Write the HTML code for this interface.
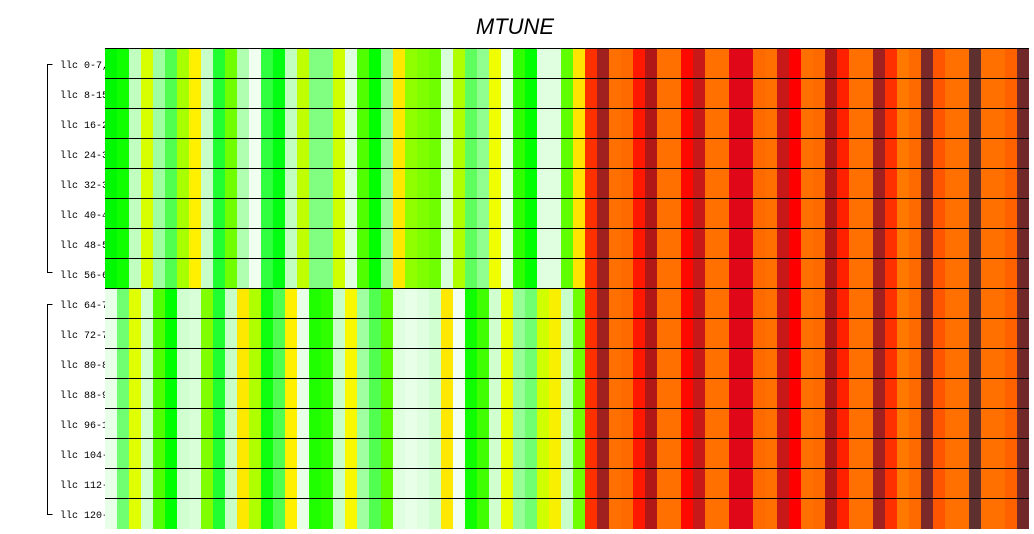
<!DOCTYPE html>
<html><head><meta charset="utf-8"><style>
html,body{margin:0;padding:0;background:#fff;width:1034px;height:534px;overflow:hidden}
svg{display:block}
</style></head><body>
<svg width="1034" height="534" xmlns="http://www.w3.org/2000/svg">
<text x="515" y="34" text-anchor="middle" font-family="Liberation Sans, sans-serif" font-style="italic" font-size="22" fill="#000">MTUNE</text>
<g font-family="Liberation Mono, monospace" font-size="10" fill="#000">
<text x="60" y="68">llc 0-7,xx</text>
<text x="60" y="98">llc 8-15,x</text>
<text x="60" y="128">llc 16-23,</text>
<text x="60" y="158">llc 24-31,</text>
<text x="60" y="188">llc 32-39,</text>
<text x="60" y="218">llc 40-47,</text>
<text x="60" y="248">llc 48-55,</text>
<text x="60" y="278">llc 56-63,</text>
<text x="60" y="308">llc 64-71,</text>
<text x="60" y="338">llc 72-79,</text>
<text x="60" y="368">llc 80-87,</text>
<text x="60" y="398">llc 88-95,</text>
<text x="60" y="428">llc 96-103</text>
<text x="60" y="458">llc 104-11</text>
<text x="60" y="488">llc 112-11</text>
<text x="60" y="518">llc 120-12</text>
</g>
<path d="M52.5 64.5H47.5V272.5H52.5M52.5 304.5H47.5V514.5H52.5" fill="none" stroke="#000" stroke-width="1"/>
<g shape-rendering="crispEdges">
<g>
<rect x="105" y="49" width="12" height="240" fill="#00f800"/>
<rect x="117" y="49" width="12" height="240" fill="#10ff00"/>
<rect x="129" y="49" width="12" height="240" fill="#c0ffc0"/>
<rect x="141" y="49" width="12" height="240" fill="#d8ff00"/>
<rect x="153" y="49" width="12" height="240" fill="#a0ffa0"/>
<rect x="165" y="49" width="12" height="240" fill="#50ff50"/>
<rect x="177" y="49" width="12" height="240" fill="#a8ff00"/>
<rect x="189" y="49" width="12" height="240" fill="#fff000"/>
<rect x="201" y="49" width="12" height="240" fill="#c8ffc8"/>
<rect x="213" y="49" width="12" height="240" fill="#20ff30"/>
<rect x="225" y="49" width="12" height="240" fill="#70ff00"/>
<rect x="237" y="49" width="12" height="240" fill="#b0ffb0"/>
<rect x="249" y="49" width="12" height="240" fill="#f0fff0"/>
<rect x="261" y="49" width="12" height="240" fill="#30ff40"/>
<rect x="273" y="49" width="12" height="240" fill="#00ff10"/>
<rect x="285" y="49" width="12" height="240" fill="#c0ffc0"/>
<rect x="297" y="49" width="12" height="240" fill="#c0ff00"/>
<rect x="309" y="49" width="12" height="240" fill="#80ff80"/>
<rect x="321" y="49" width="12" height="240" fill="#80ff80"/>
<rect x="333" y="49" width="12" height="240" fill="#d0ff00"/>
<rect x="345" y="49" width="12" height="240" fill="#e0ffe0"/>
<rect x="357" y="49" width="12" height="240" fill="#50ff00"/>
<rect x="369" y="49" width="12" height="240" fill="#00ff00"/>
<rect x="381" y="49" width="12" height="240" fill="#98ff98"/>
<rect x="393" y="49" width="12" height="240" fill="#ffe800"/>
<rect x="405" y="49" width="12" height="240" fill="#90ff00"/>
<rect x="417" y="49" width="12" height="240" fill="#80ff00"/>
<rect x="429" y="49" width="12" height="240" fill="#70ff00"/>
<rect x="441" y="49" width="12" height="240" fill="#d8ffd8"/>
<rect x="453" y="49" width="12" height="240" fill="#b0ff00"/>
<rect x="465" y="49" width="12" height="240" fill="#60ff60"/>
<rect x="477" y="49" width="12" height="240" fill="#90ff90"/>
<rect x="489" y="49" width="12" height="240" fill="#f0ff00"/>
<rect x="501" y="49" width="12" height="240" fill="#e8ffe8"/>
<rect x="513" y="49" width="12" height="240" fill="#30ff00"/>
<rect x="525" y="49" width="12" height="240" fill="#00ff00"/>
<rect x="537" y="49" width="12" height="240" fill="#e0ffe0"/>
<rect x="549" y="49" width="12" height="240" fill="#e0ffe0"/>
<rect x="561" y="49" width="12" height="240" fill="#60ff00"/>
<rect x="573" y="49" width="12" height="240" fill="#ffe400"/>
</g>
<g>
<rect x="105" y="289" width="12" height="240" fill="#e8ffe8"/>
<rect x="117" y="289" width="12" height="240" fill="#70ff70"/>
<rect x="129" y="289" width="12" height="240" fill="#e0ff00"/>
<rect x="141" y="289" width="12" height="240" fill="#d0ffd0"/>
<rect x="153" y="289" width="12" height="240" fill="#50ff00"/>
<rect x="165" y="289" width="12" height="240" fill="#00ff00"/>
<rect x="177" y="289" width="12" height="240" fill="#d0ffd0"/>
<rect x="189" y="289" width="12" height="240" fill="#d8ffd8"/>
<rect x="201" y="289" width="12" height="240" fill="#80ff00"/>
<rect x="213" y="289" width="12" height="240" fill="#20ff30"/>
<rect x="225" y="289" width="12" height="240" fill="#c8ffc8"/>
<rect x="237" y="289" width="12" height="240" fill="#ffe800"/>
<rect x="249" y="289" width="12" height="240" fill="#b0ff00"/>
<rect x="261" y="289" width="12" height="240" fill="#10ff10"/>
<rect x="273" y="289" width="12" height="240" fill="#50ff50"/>
<rect x="285" y="289" width="12" height="240" fill="#fff000"/>
<rect x="297" y="289" width="12" height="240" fill="#e8ffe8"/>
<rect x="309" y="289" width="12" height="240" fill="#20ff00"/>
<rect x="321" y="289" width="12" height="240" fill="#30ff00"/>
<rect x="333" y="289" width="12" height="240" fill="#c8ffc8"/>
<rect x="345" y="289" width="12" height="240" fill="#f8f800"/>
<rect x="357" y="289" width="12" height="240" fill="#a0ffa0"/>
<rect x="369" y="289" width="12" height="240" fill="#50ff50"/>
<rect x="381" y="289" width="12" height="240" fill="#60ff00"/>
<rect x="393" y="289" width="12" height="240" fill="#e0ffe0"/>
<rect x="405" y="289" width="12" height="240" fill="#e8ffe8"/>
<rect x="417" y="289" width="12" height="240" fill="#e0ffe0"/>
<rect x="429" y="289" width="12" height="240" fill="#d0ffd0"/>
<rect x="441" y="289" width="12" height="240" fill="#ffe800"/>
<rect x="453" y="289" width="12" height="240" fill="#f0fff0"/>
<rect x="465" y="289" width="12" height="240" fill="#10ff00"/>
<rect x="477" y="289" width="12" height="240" fill="#40ff00"/>
<rect x="489" y="289" width="12" height="240" fill="#d0ffd0"/>
<rect x="501" y="289" width="12" height="240" fill="#e8ff00"/>
<rect x="513" y="289" width="12" height="240" fill="#98ff98"/>
<rect x="525" y="289" width="12" height="240" fill="#70ff70"/>
<rect x="537" y="289" width="12" height="240" fill="#d0ff00"/>
<rect x="549" y="289" width="12" height="240" fill="#f8f000"/>
<rect x="561" y="289" width="12" height="240" fill="#c8ffc8"/>
<rect x="573" y="289" width="12" height="240" fill="#70ff00"/>
</g>
<g>
<rect x="585" y="49" width="12" height="480" fill="#ff3000"/>
<rect x="597" y="49" width="12" height="480" fill="#a02020"/>
<rect x="609" y="49" width="12" height="480" fill="#ff7000"/>
<rect x="621" y="49" width="12" height="480" fill="#ff6a00"/>
<rect x="633" y="49" width="12" height="480" fill="#ff1800"/>
<rect x="645" y="49" width="12" height="480" fill="#b01818"/>
<rect x="657" y="49" width="12" height="480" fill="#ff7000"/>
<rect x="669" y="49" width="12" height="480" fill="#ff7000"/>
<rect x="681" y="49" width="12" height="480" fill="#ff0800"/>
<rect x="693" y="49" width="12" height="480" fill="#c81818"/>
<rect x="705" y="49" width="12" height="480" fill="#ff7000"/>
<rect x="717" y="49" width="12" height="480" fill="#ff7000"/>
<rect x="729" y="49" width="12" height="480" fill="#e00818"/>
<rect x="741" y="49" width="12" height="480" fill="#e00818"/>
<rect x="753" y="49" width="12" height="480" fill="#ff6a00"/>
<rect x="765" y="49" width="12" height="480" fill="#ff7000"/>
<rect x="777" y="49" width="12" height="480" fill="#c81818"/>
<rect x="789" y="49" width="12" height="480" fill="#ff0000"/>
<rect x="801" y="49" width="12" height="480" fill="#ff7000"/>
<rect x="813" y="49" width="12" height="480" fill="#ff6a00"/>
<rect x="825" y="49" width="12" height="480" fill="#b01818"/>
<rect x="837" y="49" width="12" height="480" fill="#ff2000"/>
<rect x="849" y="49" width="12" height="480" fill="#ff7000"/>
<rect x="861" y="49" width="12" height="480" fill="#ff7000"/>
<rect x="873" y="49" width="12" height="480" fill="#a02020"/>
<rect x="885" y="49" width="12" height="480" fill="#ff3000"/>
<rect x="897" y="49" width="12" height="480" fill="#ff7800"/>
<rect x="909" y="49" width="12" height="480" fill="#ff6a00"/>
<rect x="921" y="49" width="12" height="480" fill="#7a2828"/>
<rect x="933" y="49" width="12" height="480" fill="#ff5500"/>
<rect x="945" y="49" width="12" height="480" fill="#ff7000"/>
<rect x="957" y="49" width="12" height="480" fill="#ff7000"/>
<rect x="969" y="49" width="12" height="480" fill="#5e3030"/>
<rect x="981" y="49" width="12" height="480" fill="#ff7000"/>
<rect x="993" y="49" width="12" height="480" fill="#ff7000"/>
<rect x="1005" y="49" width="12" height="480" fill="#ff6000"/>
<rect x="1017" y="49" width="12" height="480" fill="#702828"/>
</g>
<g fill="#000">
<rect x="105" y="48" width="924" height="1"/>
<rect x="105" y="78" width="924" height="1"/>
<rect x="105" y="108" width="924" height="1"/>
<rect x="105" y="138" width="924" height="1"/>
<rect x="105" y="168" width="924" height="1"/>
<rect x="105" y="198" width="924" height="1"/>
<rect x="105" y="228" width="924" height="1"/>
<rect x="105" y="258" width="924" height="1"/>
<rect x="105" y="288" width="924" height="1"/>
<rect x="105" y="318" width="924" height="1"/>
<rect x="105" y="348" width="924" height="1"/>
<rect x="105" y="378" width="924" height="1"/>
<rect x="105" y="408" width="924" height="1"/>
<rect x="105" y="438" width="924" height="1"/>
<rect x="105" y="468" width="924" height="1"/>
<rect x="105" y="498" width="924" height="1"/>
</g>
</g>
</svg>
</body></html>
